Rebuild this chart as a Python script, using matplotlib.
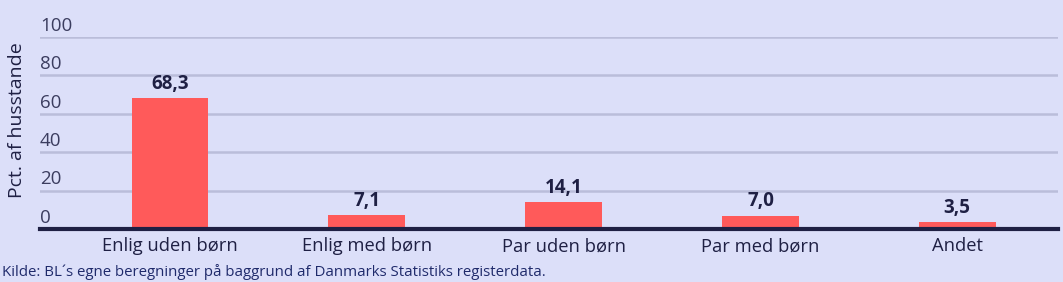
import matplotlib.pyplot as plt
import matplotlib.transforms as mtransforms

plt.rcParams['font.family'] = ['Open Sans', 'DejaVu Sans']

kategorier = ["Enlig uden børn", "Enlig med børn", "Par uden børn", "Par med børn", "Andet"]
andel = [68.3, 7.1, 14.1, 7.0, 3.5]
yticks = [0, 20, 40, 60, 80, 100]

bg = '#dcdff9'
navy = '#1f2044'
bar_col = '#ff5a5a'
grid_col = '#babdda'

fig = plt.figure(figsize=(10.63, 2.82), dpi=100, facecolor=bg)
ax = fig.add_axes([0.0376, 0.188, 0.9574, 0.681])
ax.set_facecolor(bg)

x = list(range(len(kategorier)))
ax.bar(x, andel, width=0.39, color=bar_col, zorder=3)

ax.set_ylim(0, 100)
ax.set_xlim(-0.66, 4.51)

# gridlines
for v in yticks[1:]:
    ax.axhline(v, color=grid_col, lw=1.8, zorder=1)
ax.axhline(0, color=navy, lw=3, zorder=4, clip_on=False)

# y tick labels sit above the lines
trans = mtransforms.blended_transform_factory(ax.transAxes, ax.transData)
for v in yticks:
    ax.annotate(str(v), (0.0, v), xycoords=trans, xytext=(0, 1.5), textcoords='offset points',
                ha='left', va='bottom', fontsize=13.5, color=navy, alpha=0.85)

# value labels
for xi, v in zip(x, andel):
    ax.annotate(f"{v:.1f}".replace('.', ','), (xi, v), xytext=(0, 3), textcoords='offset points',
                ha='center', va='bottom', fontsize=13.5, fontweight='bold', color=navy)

ax.set_xticks(x)
ax.set_xticklabels(kategorier, fontsize=13.2, color=navy)
ax.tick_params(axis='x', length=0, pad=6)
ax.set_yticks([])
for s in ax.spines.values():
    s.set_visible(False)

fig.text(0.016, 0.575, "Pct. af husstande", rotation=90, ha='center', va='center',
         fontsize=14, color=navy)
fig.text(0.002, 0.035, "Kilde: BL\u00b4s egne beregninger på baggrund af Danmarks Statistiks registerdata.",
         ha='left', va='center', fontsize=10.8, color='#1f2a6b')

fig.savefig('out.png', dpi=100, facecolor=bg)
